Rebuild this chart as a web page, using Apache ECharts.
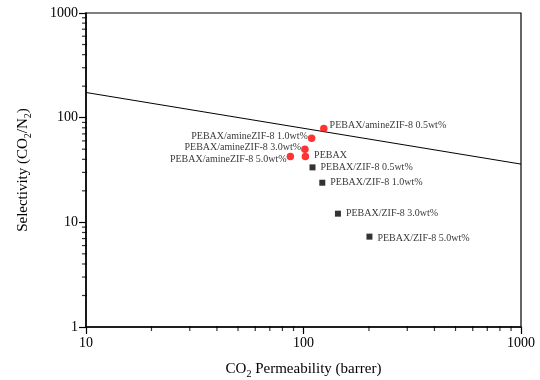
<!DOCTYPE html>
<html>
<head>
<meta charset="utf-8">
<script src="https://cdn.jsdelivr.net/npm/echarts@6/dist/echarts.min.js"></script>
<style>
  html, body { margin: 0; padding: 0; background: #fff; }
  #divChart { width: 540px; height: 380px; }
</style>
</head>
<body>
<div id="divChart"></div>
<script>
// PEBAX and amine-ZIF-8 membranes (red circles)
var amineNames = ['PEBAX', 'PEBAX/amineZIF-8 0.5wt%', 'PEBAX/amineZIF-8 1.0wt%', 'PEBAX/amineZIF-8 3.0wt%', 'PEBAX/amineZIF-8 5.0wt%'];
var amineX = [102, 124, 109, 101.5, 87];
var amineY = [42.5, 79, 63.5, 50, 42.5];

// ZIF-8 membranes (black squares)
var zifNames = ['PEBAX/ZIF-8 0.5wt%', 'PEBAX/ZIF-8 1.0wt%', 'PEBAX/ZIF-8 3.0wt%', 'PEBAX/ZIF-8 5.0wt%'];
var zifX = [110, 122, 144, 201];
var zifY = [33.5, 23.9, 12.1, 7.3];

// Robeson upper bound (2008)
var boundX = [10, 1000];
var boundY = [174, 36];

// axis ticks
var xTickLabels = ['10', '100', '1000'];
var yTickLabels = ['1', '10', '100', '1000'];
var xMinorTicks = [20, 30, 40, 50, 60, 70, 80, 90, 200, 300, 400, 500, 600, 700, 800, 900];
var yMinorTicks = [2, 3, 4, 5, 6, 7, 8, 9, 20, 30, 40, 50, 60, 70, 80, 90, 200, 300, 400, 500, 600, 700, 800, 900];

var FONT = 'Liberation Serif';

// label placement of the circles: side, distance, vertical shift
var amineSide = ['right', 'right', 'left', 'left', 'left'];
var amineDist = [5, 2, 0, 0, 0];
var amineShift = [-1.5, -3, -2, -2, 3];
var zifShift = [0, 0, 0, 2];

function buildPoints(names, xs, ys, sides, dists, shifts) {
    var out = [];
    for (var i = 0; i < names.length; i++) {
        out.push({
            name : names[i],
            value : [xs[i], ys[i]],
            label : {
                position : sides ? sides[i] : 'right',
                distance : dists ? dists[i] : 5,
                offset : [0, shifts[i]]
            }
        });
    }
    return out;
}

function pairs(xs, ys) {
    var out = [];
    for (var i = 0; i < xs.length; i++) {
        out.push([xs[i], ys[i]]);
    }
    return out;
}

var myChart = echarts.init(document.getElementById('divChart'));

var subRich = {
    sub : {
        fontFamily : FONT,
        fontSize : 10,
        fontWeight : 'normal',
        color : '#000',
        padding : [9, 0, 0, 0]
    }
};

var option = {
    animation : false,
    backgroundColor : '#fff',
    grid : {
        left : 86,
        right : 19,
        top : 13,
        bottom : 53,
        outerBoundsMode : 'none',
        show : true,
        borderColor : '#000',
        borderWidth : 1.2
    },
    xAxis : {
        type : 'log',
        logBase : 10,
        min : 10,
        max : 1000,
        name : 'CO{sub|2} Permeability (barrer)',
        nameLocation : 'middle',
        nameGap : 33,
        nameTextStyle : {
            fontFamily : FONT,
            fontSize : 15,
            fontWeight : 'normal',
            color : '#000',
            rich : subRich
        },
        axisLine : {
            lineStyle : { color : '#000', width : 1.5 }
        },
        axisTick : {
            inside : false,
            length : 7,
            lineStyle : { color : '#000', width : 1.2 }
        },
        axisLabel : {
            margin : 9,
            fontFamily : FONT,
            fontSize : 14,
            fontWeight : 'normal',
            color : '#000',
            formatter : function(v, idx) {
                return xTickLabels[idx];
            }
        },
        splitLine : { show : false }
    },
    yAxis : {
        type : 'log',
        logBase : 10,
        min : 1,
        max : 1000,
        name : 'Selectivity (CO{sub|2}/N{sub|2})',
        nameLocation : 'middle',
        nameGap : 53,
        nameRotate : 90,
        nameTextStyle : {
            fontFamily : FONT,
            fontSize : 15,
            fontWeight : 'normal',
            color : '#000',
            rich : subRich
        },
        axisLine : {
            lineStyle : { color : '#000', width : 1.5 }
        },
        axisTick : {
            inside : false,
            length : 7,
            lineStyle : { color : '#000', width : 1.2 }
        },
        axisLabel : {
            margin : 8,
            fontFamily : FONT,
            fontSize : 14,
            fontWeight : 'normal',
            color : '#000',
            formatter : function(v, idx) {
                return yTickLabels[idx];
            }
        },
        splitLine : { show : false }
    },
    series : [{
        // upper bound
        type : 'line',
        data : pairs(boundX, boundY),
        symbol : 'none',
        lineStyle : { color : '#000', width : 1 },
        silent : true,
        z : 1
    }, {
        // minor ticks of the y axis
        type : 'scatter',
        data : yMinorTicks.map(function(v) { return [10, v]; }),
        symbol : 'rect',
        symbolSize : [5, 1.2],
        symbolOffset : [-1.5, 0],
        itemStyle : { color : '#000' },
        clip : false,
        silent : true
    }, {
        // minor ticks of the x axis
        type : 'scatter',
        data : xMinorTicks.map(function(v) { return [v, 1]; }),
        symbol : 'rect',
        symbolSize : [1.2, 5],
        symbolOffset : [0, 1.5],
        itemStyle : { color : '#000' },
        clip : false,
        silent : true
    }, {
        name : 'amine',
        type : 'scatter',
        data : buildPoints(amineNames, amineX, amineY, amineSide, amineDist, amineShift),
        symbol : 'circle',
        symbolSize : 7.5,
        itemStyle : { color : '#ff0000' },
        label : {
            show : true,
            formatter : '{b}',
            fontFamily : FONT,
            fontSize : 10,
            color : '#000'
        },
        z : 3
    }, {
        name : 'zif',
        type : 'scatter',
        data : buildPoints(zifNames, zifX, zifY, null, null, zifShift),
        symbol : 'rect',
        symbolSize : 6,
        itemStyle : { color : '#000' },
        label : {
            show : true,
            formatter : '{b}',
            fontFamily : FONT,
            fontSize : 10,
            color : '#000'
        },
        z : 3
    }]
};
myChart.setOption(option);
</script>
</body>
</html>
